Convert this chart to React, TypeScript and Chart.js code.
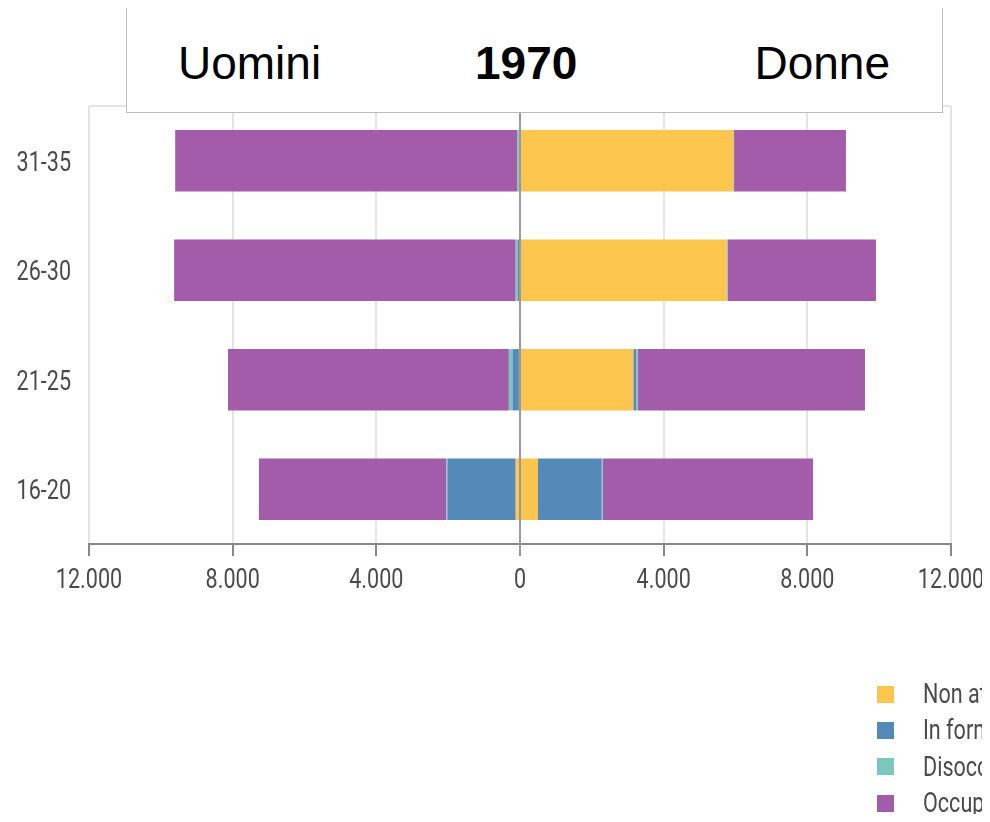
import React, { useEffect, useRef } from "react";
import { Chart, registerables } from "chart.js";

Chart.register(...registerables);

const ageGroups = ["31-35", "26-30", "21-25", "16-20"];
const seriesNames = ["Non attivi", "In formazione", "Disoccupati", "Occupati"];
const seriesColors = ["#FCC54E", "#5589B8", "#7CC7BC", "#A35CAA"];

// Uomini (men) — magnitudes, drawn to the left
const nonAttiviM = [10, 20, 30, 120];
const formazioneM = [20, 40, 180, 1900];
const disoccupatiM = [50, 60, 100, 30];
const occupatiM = [9520, 9510, 7820, 5220];

// Donne (women) — drawn to the right
const nonAttiviF = [5940, 5755, 3155, 500];
const formazioneF = [10, 10, 80, 1775];
const disoccupatiF = [10, 20, 40, 30];
const occupatiF = [3115, 4125, 6330, 5855];

const xMin = -12000;
const xMax = 12000;
const xStep = 4000;

const fmt = (v: number) =>
  String(Math.abs(Math.round(v))).replace(/\B(?=(\d{3})+(?!\d))/g, ".");

const LABEL_FONT = "Roboto, sans-serif";
const LABEL_COLOR = "#4a4a4a";
const CONDENSE = 0.77;

const W = 982;
const H = 806;

const framePlugin = {
  id: "frameLines",
  beforeDatasetsDraw(chart: any) {
    const { ctx, chartArea } = chart;
    ctx.save();
    ctx.strokeStyle = "#e4e4e4";
    ctx.lineWidth = 2;
    ctx.beginPath();
    ctx.moveTo(chartArea.left, chartArea.top);
    ctx.lineTo(chartArea.right, chartArea.top);
    ctx.stroke();
    ctx.restore();
  },
  afterDatasetsDraw(chart: any) {
    const { ctx, chartArea, scales } = chart;
    const x0 = scales.x.getPixelForValue(0);
    ctx.save();
    ctx.strokeStyle = "#999999";
    ctx.lineWidth = 2;
    ctx.beginPath();
    ctx.moveTo(x0, chartArea.top);
    ctx.lineTo(x0, chartArea.bottom + 12);
    ctx.stroke();
    ctx.restore();
  },
  afterDraw(chart: any) {
    // condensed tick labels, taken from the scales' own ticks
    const { ctx, chartArea, scales } = chart;
    const xs = scales.x;
    const ys = scales.y;
    ctx.save();
    ctx.fillStyle = LABEL_COLOR;
    ctx.font = "28px " + LABEL_FONT;
    ctx.textBaseline = "alphabetic";
    ctx.textAlign = "center";
    xs.ticks.forEach((t: any, i: number) => {
      const px = xs.getPixelForTick(i);
      ctx.save();
      ctx.translate(px, chartArea.bottom + 44);
      ctx.scale(CONDENSE, 1);
      ctx.fillText(fmt(t.value), 0, 0);
      ctx.restore();
    });
    ctx.textAlign = "right";
    ys.ticks.forEach((t: any, i: number) => {
      const py = ys.getPixelForTick(i);
      ctx.save();
      ctx.translate(chartArea.left - 18, py + 10);
      ctx.scale(CONDENSE, 1);
      ctx.fillText(String(ys.getLabelForValue(t.value)), 0, 0);
      ctx.restore();
    });
    ctx.restore();
  },
};

export default function App() {
  const ref = useRef<HTMLCanvasElement | null>(null);

  useEffect(() => {
    if (!ref.current) return;
    const neg = (a: number[]) => a.map((v) => -v);
    const menSeries = [nonAttiviM, formazioneM, disoccupatiM, occupatiM];
    const womenSeries = [nonAttiviF, formazioneF, disoccupatiF, occupatiF];
    const datasets: any[] = [];
    seriesNames.forEach((name, i) => {
      datasets.push({
        label: name + " (Uomini)",
        data: neg(menSeries[i]),
        backgroundColor: seriesColors[i],
        borderWidth: 0,
        stack: "s",
      });
      datasets.push({
        label: name + " (Donne)",
        data: womenSeries[i],
        backgroundColor: seriesColors[i],
        borderWidth: 0,
        stack: "s",
      });
    });

    const chart = new Chart(ref.current, {
      type: "bar",
      data: { labels: ageGroups, datasets },
      plugins: [framePlugin],
      options: {
        indexAxis: "y",
        animation: false,
        responsive: false,
        maintainAspectRatio: false,
        datasets: {
          bar: { categoryPercentage: 0.8, barPercentage: 0.7 },
        },
        layout: { padding: { top: 98, right: 39, left: 0, bottom: H - 536 - 40 } },
        plugins: {
          legend: { display: false },
          tooltip: { enabled: false },
          title: { display: false },
        },
        scales: {
          x: {
            type: "linear",
            stacked: true,
            min: xMin,
            max: xMax,
            ticks: {
              display: false,
              stepSize: xStep,
              callback: (v: any) => fmt(Number(v)),
            },
            grid: {
              color: "#e4e4e4",
              lineWidth: 2,
              tickColor: "#888888",
              tickLength: 12,
              tickWidth: 2,
            },
            border: { display: true, color: "#888888", width: 2 },
            afterFit: (scale: any) => {
              scale.height = 40;
              scale.paddingLeft = 0;
              scale.paddingRight = 0;
            },
          } as any,
          y: {
            type: "category",
            stacked: true,
            ticks: { display: false },
            grid: { display: false, drawTicks: false },
            border: { display: false },
            afterFit: (scale: any) => {
              scale.width = 81;
              scale.paddingTop = 0;
              scale.paddingBottom = 0;
            },
          } as any,
        },
      } as any,
    });
    return () => chart.destroy();
  }, []);

  return (
    <div style={{ position: "relative", width: W, height: H, overflow: "hidden" }}>
      <canvas ref={ref} width={W} height={H} style={{ display: "block", width: W, height: H }} />
      <div
        style={{
          position: "absolute",
          left: 118,
          top: -1,
          width: 815,
          height: 104,
          background: "#ffffff",
          border: "1px solid #bdbdbd",
          fontFamily: '"Liberation Sans", Arial, sans-serif',
          fontSize: 46,
          lineHeight: "46px",
          color: "#000",
        }}
      >
        <span style={{ position: "absolute", left: 51, top: 32 }}>Uomini</span>
        <span style={{ position: "absolute", left: 348, top: 32, fontWeight: "bold" }}>1970</span>
        <span style={{ position: "absolute", right: 52, top: 32 }}>Donne</span>
      </div>
      <div style={{ position: "absolute", left: 869, top: 668, whiteSpace: "nowrap" }}>
        {seriesNames.map((name, i) => (
          <div key={name} style={{ display: "flex", alignItems: "center", height: 36.3 }}>
            <span
              style={{
                display: "inline-block",
                width: 17,
                height: 17,
                background: seriesColors[i],
                marginRight: 29,
                flex: "none",
              }}
            />
            <span
              style={{
                display: "inline-block",
                fontFamily: LABEL_FONT,
                fontSize: 28,
                color: LABEL_COLOR,
                lineHeight: "28px",
                transform: `scaleX(${CONDENSE})`,
                transformOrigin: "left center",
              }}
            >
              {name}
            </span>
          </div>
        ))}
      </div>
    </div>
  );
}
